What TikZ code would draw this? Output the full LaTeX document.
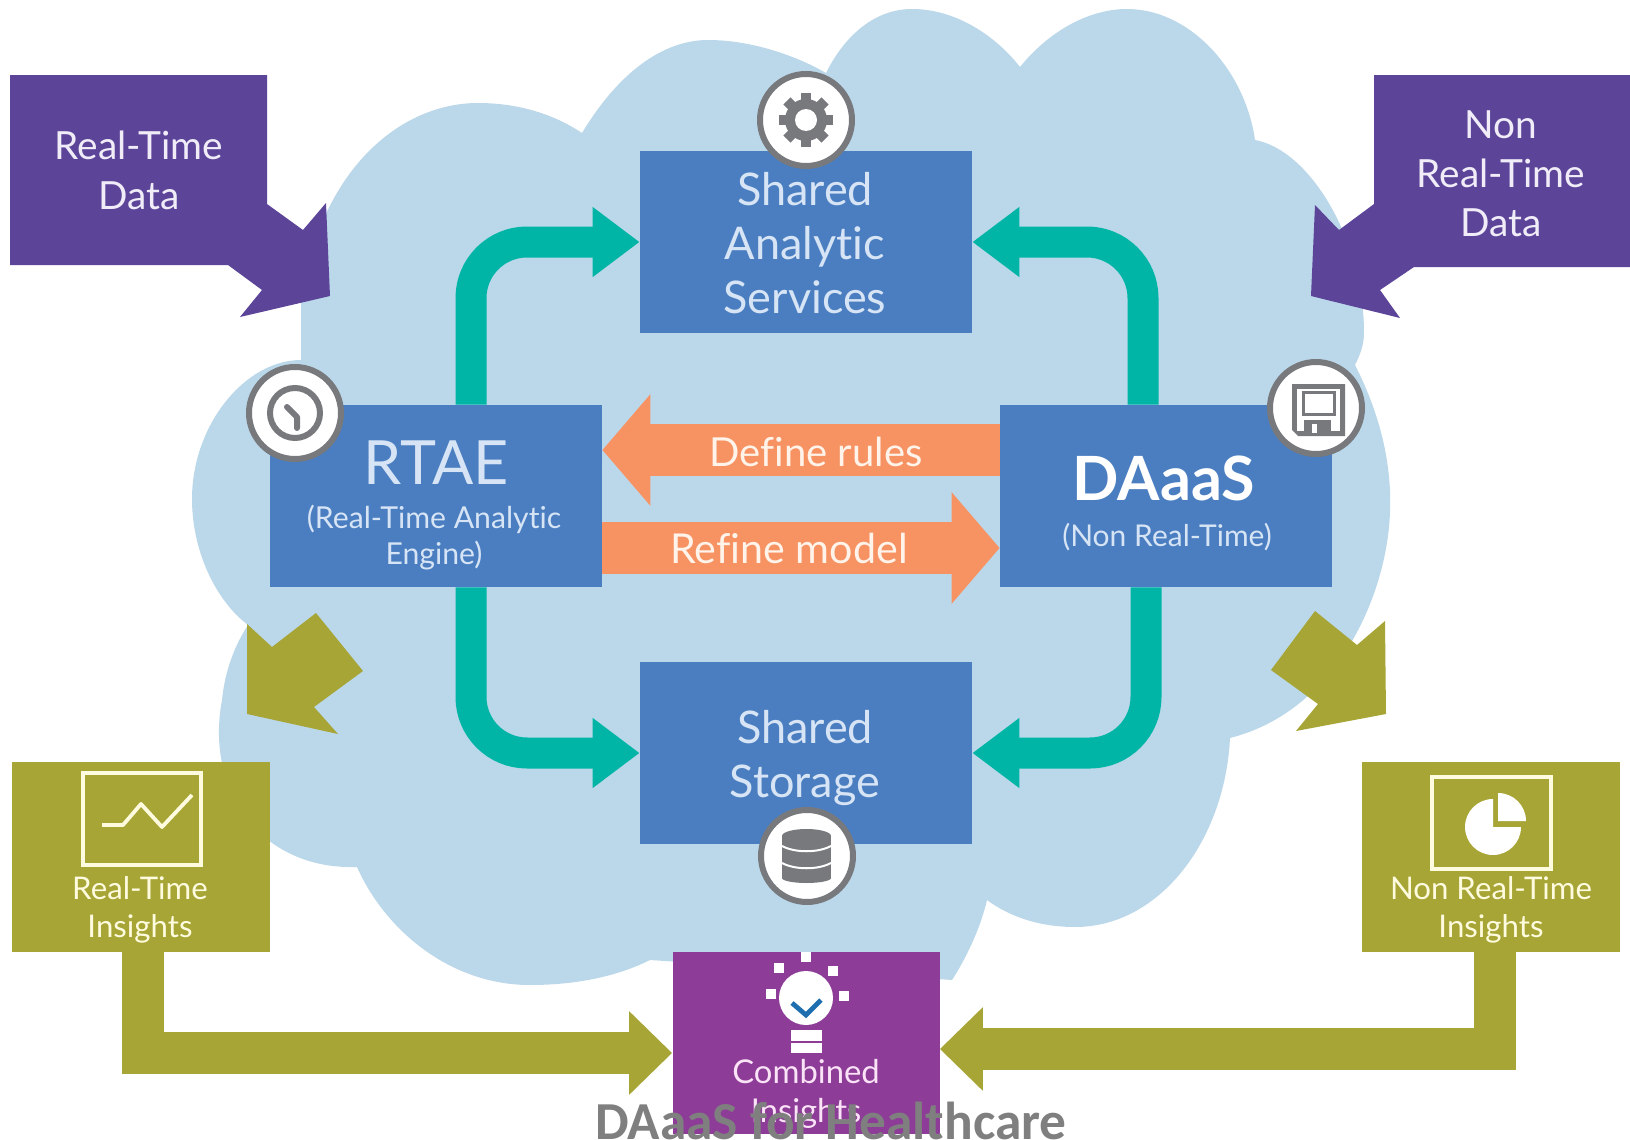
\documentclass[tikz,border=0pt]{standalone}
\usepackage{fontspec}
\setmainfont[Ligatures=NoCommon]{Lato}
\newfontfamily\capfont{Carlito}
\usetikzlibrary{arrows.meta}
\definecolor{cloudc}{HTML}{BBD8EA}
\definecolor{boxblue}{HTML}{4A7EC0}
\definecolor{bluetxt}{HTML}{D6E4F5}
\definecolor{tealc}{HTML}{00B5A6}
\definecolor{orangec}{HTML}{F79262}
\definecolor{orangetxt}{HTML}{FFF3EA}
\definecolor{purplec}{HTML}{5C4499}
\definecolor{purpletxt}{HTML}{F0ECF8}
\definecolor{olivec}{HTML}{A7A535}
\definecolor{cream}{HTML}{FFFBDF}
\definecolor{magentac}{HTML}{8D3C97}
\definecolor{pinktxt}{HTML}{FAE3F6}
\definecolor{icongray}{HTML}{77797D}
\definecolor{checkblue}{HTML}{1F6FB0}
\definecolor{capgray}{HTML}{7F7F7F}
\tikzset{
  x=0.5pt,y=-0.5pt,
  blockb/.style={fill=boxblue,inner sep=0pt,minimum width=166pt,minimum height=91pt},
  ibox/.style={fill=olivec,inner sep=0pt,minimum width=129pt,minimum height=95pt},
  ringc/.style={circle,fill=white,draw=icongray,line width=3pt,inner sep=0pt,minimum size=46pt},
  tb/.style={text=bluetxt,align=center},
  ti/.style={text=cream,align=center,font=\fontsize{15.6}{19}\selectfont},
  tealarrow/.style={draw=tealc,line width=15.5pt,rounded corners=28pt,-{Triangle[length=23.5pt,width=33.5pt,sep=0pt]}},
  orangearrow/.style={draw=orangec,line width=26pt,-{Triangle[length=24pt,width=54.5pt]}},
  olivearrow/.style={draw=olivec,line width=21pt,-{Triangle[length=21.5pt,width=40.5pt]}},
  purplearrow/.style={fill=purplec},
  oliveshape/.style={fill=olivec},
  framei/.style={draw=cream,line width=1.6pt},
}
\begin{document}
\begin{tikzpicture}
\useasboundingbox (0,0) rectangle (1630,1140);
\fill[white] (0,0) rectangle (1630,1140);
% cloud
\fill[cloudc] (301,360) -- (301,300)
  .. controls (320,170) and (400,103) .. (478,103)
  .. controls (520,103) and (555,115) .. (582,133)
  .. controls (620,70) and (665,40) .. (708,40)
  .. controls (750,40) and (795,55) .. (826,73)
  .. controls (845,35) and (875,9) .. (912,9)
  .. controls (955,9) and (995,35) .. (1020,67)
  .. controls (1050,30) and (1090,9) .. (1127,9)
  .. controls (1190,9) and (1245,70) .. (1255,140)
  .. controls (1310,150) and (1364,240) .. (1364,333)
  .. controls (1364,345) and (1360,355) .. (1355,365)
  .. controls (1378,410) and (1392,460) .. (1390,511)
  .. controls (1388,590) and (1340,710) .. (1230,738)
  .. controls (1225,840) and (1160,927) .. (1075,927)
  .. controls (1040,927) and (1010,917) .. (987,900)
  .. controls (980,930) and (965,960) .. (952,980)
  -- (650,960)
  .. controls (620,975) and (580,985) .. (530,985)
  .. controls (450,985) and (385,930) .. (357,867)
  .. controls (260,870) and (205,790) .. (222,700)
  .. controls (225,670) and (235,645) .. (248,625)
  .. controls (215,600) and (192,550) .. (192,499)
  .. controls (192,425) and (245,360) .. (301,360)
  -- cycle;
% boxes
\node[blockb] (sas) at (806,242) {};
\node[blockb] (ss) at (806,753) {};
\node[blockb] (rtae) at (436,496) {};
\node[blockb] (daas) at (1166,496) {};
\node[ibox] (rti) at (141,857) {};
\node[ibox] (nrti) at (1491,857) {};
\node[fill=magentac,inner sep=0pt,minimum width=133.5pt,minimum height=91pt] (ci) at (806,1043) {};
% teal arrows
\draw[tealarrow] (rtae.north -| 471,0) |- (sas.west);
\draw[tealarrow] (daas.north -| 1143,0) |- (sas.east);
\draw[tealarrow] (rtae.south -| 471,0) |- (ss.west);
\draw[tealarrow] (daas.south -| 1146,0) |- (ss.east);
% orange arrows
\draw[orangearrow] (daas.west |- 0,450) -- (rtae.east |- 0,450);
\draw[orangearrow] (rtae.east |- 0,548) -- (daas.west |- 0,548);
% olive connectors
\draw[olivearrow] (rti.south -| 143,0) |- (ci.west |- 0,1053);
\draw[olivearrow] (nrti.south -| 1495,0) |- (ci.east |- 0,1049);
% purple block arrows
\fill[purplearrow] (10,75) -- (267,75) -- (267,204) -- (303,230) -- (326,203) -- (330,296) -- (240,317) -- (262,290) -- (228,265) -- (10,265) -- cycle;
\fill[purplearrow] (1630,75) -- (1374,75) -- (1374,204) -- (1339,230) -- (1315,205) -- (1311,296) -- (1400,318) -- (1380,290) -- (1414,267) -- (1630,267) -- cycle;
% olive block arrows
\fill[oliveshape] (247,624) -- (272,647) -- (316,613) -- (363,671) -- (314,707) -- (338,734) -- (247,714) -- cycle;
\fill[oliveshape] (1385,621) -- (1357,645) -- (1315,611) -- (1271,670) -- (1318,704) -- (1296,731) -- (1386,714) -- cycle;
% box texts
\node[tb,font=\fontsize{22.5}{27}\selectfont] (sast) at (805,243) {Shared\\Analytic\\Services};
\node[tb,font=\fontsize{22.5}{27}\selectfont] (sst) at (805,758) {Shared\\Storage};
\node[tb,font=\fontsize{30.5}{36}\selectfont] (rtaet) at (436,463) {RTAE};
\node[tb,font=\fontsize{15.1}{18}\selectfont] (rtaes) at (434,538) {(Real-Time Analytic\\Engine)};
\node[text=white,font=\fontsize{30.5}{34}\bfseries\selectfont] (daast) at (1164,478) {DAaaS};
\node[tb,font=\fontsize{15}{18}\selectfont] (daass) at (1167,537) {(Non Real-Time)};
\node[text=orangetxt,font=\fontsize{20}{24}\selectfont] (dr) at (816,452) {Define rules};
\node[text=orangetxt,font=\fontsize{20.6}{24}\selectfont] (rm) at (789,548) {Refine model};
\node[text=purpletxt,align=center,font=\fontsize{19.4}{25}\selectfont] (rtd) at (139,170) {Real-Time\\Data};
\node[text=purpletxt,align=center,font=\fontsize{19.4}{24.5}\selectfont] (nrtd) at (1501,174) {Non\\Real-Time\\Data};
\node[ti] (rtit) at (140,910) {Real-Time\\Insights};
\node[ti] (nrtit) at (1491,910) {Non Real-Time\\Insights};
\node[text=pinktxt,align=center,font=\fontsize{16.4}{19.5}\selectfont] (cit) at (806,1094) {Combined\\Insights};
% gear
\node[ringc] (gear) at (806,120) {};
\foreach \a in {0,45,...,315}
  \draw[icongray,line width=5pt] (gear.center) -- ++(\a:13.5pt);
\fill[icongray] (gear.center) circle[radius=21];
\fill[white] (gear.center) circle[radius=11];
% clock
\node[ringc] (clock) at (295,413) {};
\draw[icongray,line width=3pt] (clock.center) circle[radius=25];
\draw[icongray,line width=3pt,line cap=round,line join=round] (287,407) -- (297,417) -- (297,428);
% floppy
\node[ringc] (floppy) at (1316,408) {};
\fill[icongray] (1292,384) -- (1345,384) -- (1345,436) -- (1298,436) -- (1292,430) -- cycle;
\fill[white] (1297,389) rectangle (1340,431);
\draw[icongray,line width=1.5pt] (1303,392) rectangle (1334,414);
\fill[icongray] (1304,420) rectangle (1331,436);
\fill[white] (1312,424) rectangle (1317,433);
% database
\node[ringc] (db) at (807,856) {};
\fill[icongray] (782,836) rectangle (831,878);
\fill[icongray] (806.5,836) ellipse[x radius=24.5,y radius=7];
\fill[icongray] (806.5,878) ellipse[x radius=24.5,y radius=5];
\draw[white,line width=1pt] (782,846) .. controls (795,853) and (818,853) .. (831,846);
\draw[white,line width=1pt] (782,863) .. controls (795,870) and (818,870) .. (831,863);
% chart icon
\draw[framei] (83,773) rectangle (201,865);
\draw[cream,line width=1.9pt,line join=round] (102,825) -- (123,825) -- (141,804) -- (162,827) -- (192,795);
% pie icon
\draw[framei] (1432,777) rectangle (1551,869);
\fill[white] (1493,827) -- +(0:14pt) arc[start angle=0,end angle=-270,radius=14pt] -- cycle;
\fill[white] (1498,821) -- +(0:14pt) arc[start angle=0,end angle=90,radius=14pt] -- cycle;
% bulb
\fill[white] (806,998) circle[radius=27];
\foreach \dx/\dy in {806/957,779/968,833/971,771/994,844/996}
  \fill[white] (\dx-5,\dy-5) rectangle (\dx+5,\dy+5);
\fill[white] (791,1030) rectangle (822,1041);
\fill[white] (791,1043) rectangle (822,1053);
\draw[checkblue,line width=2.4pt] (792,1003) -- (806,1015) -- (821,1000);
% caption
\node[text=capgray,font=\capfont\fontsize{26.7}{30}\bfseries\selectfont] (cap) at (831,1121) {DAaaS for Healthcare};
\end{tikzpicture}
\end{document}
